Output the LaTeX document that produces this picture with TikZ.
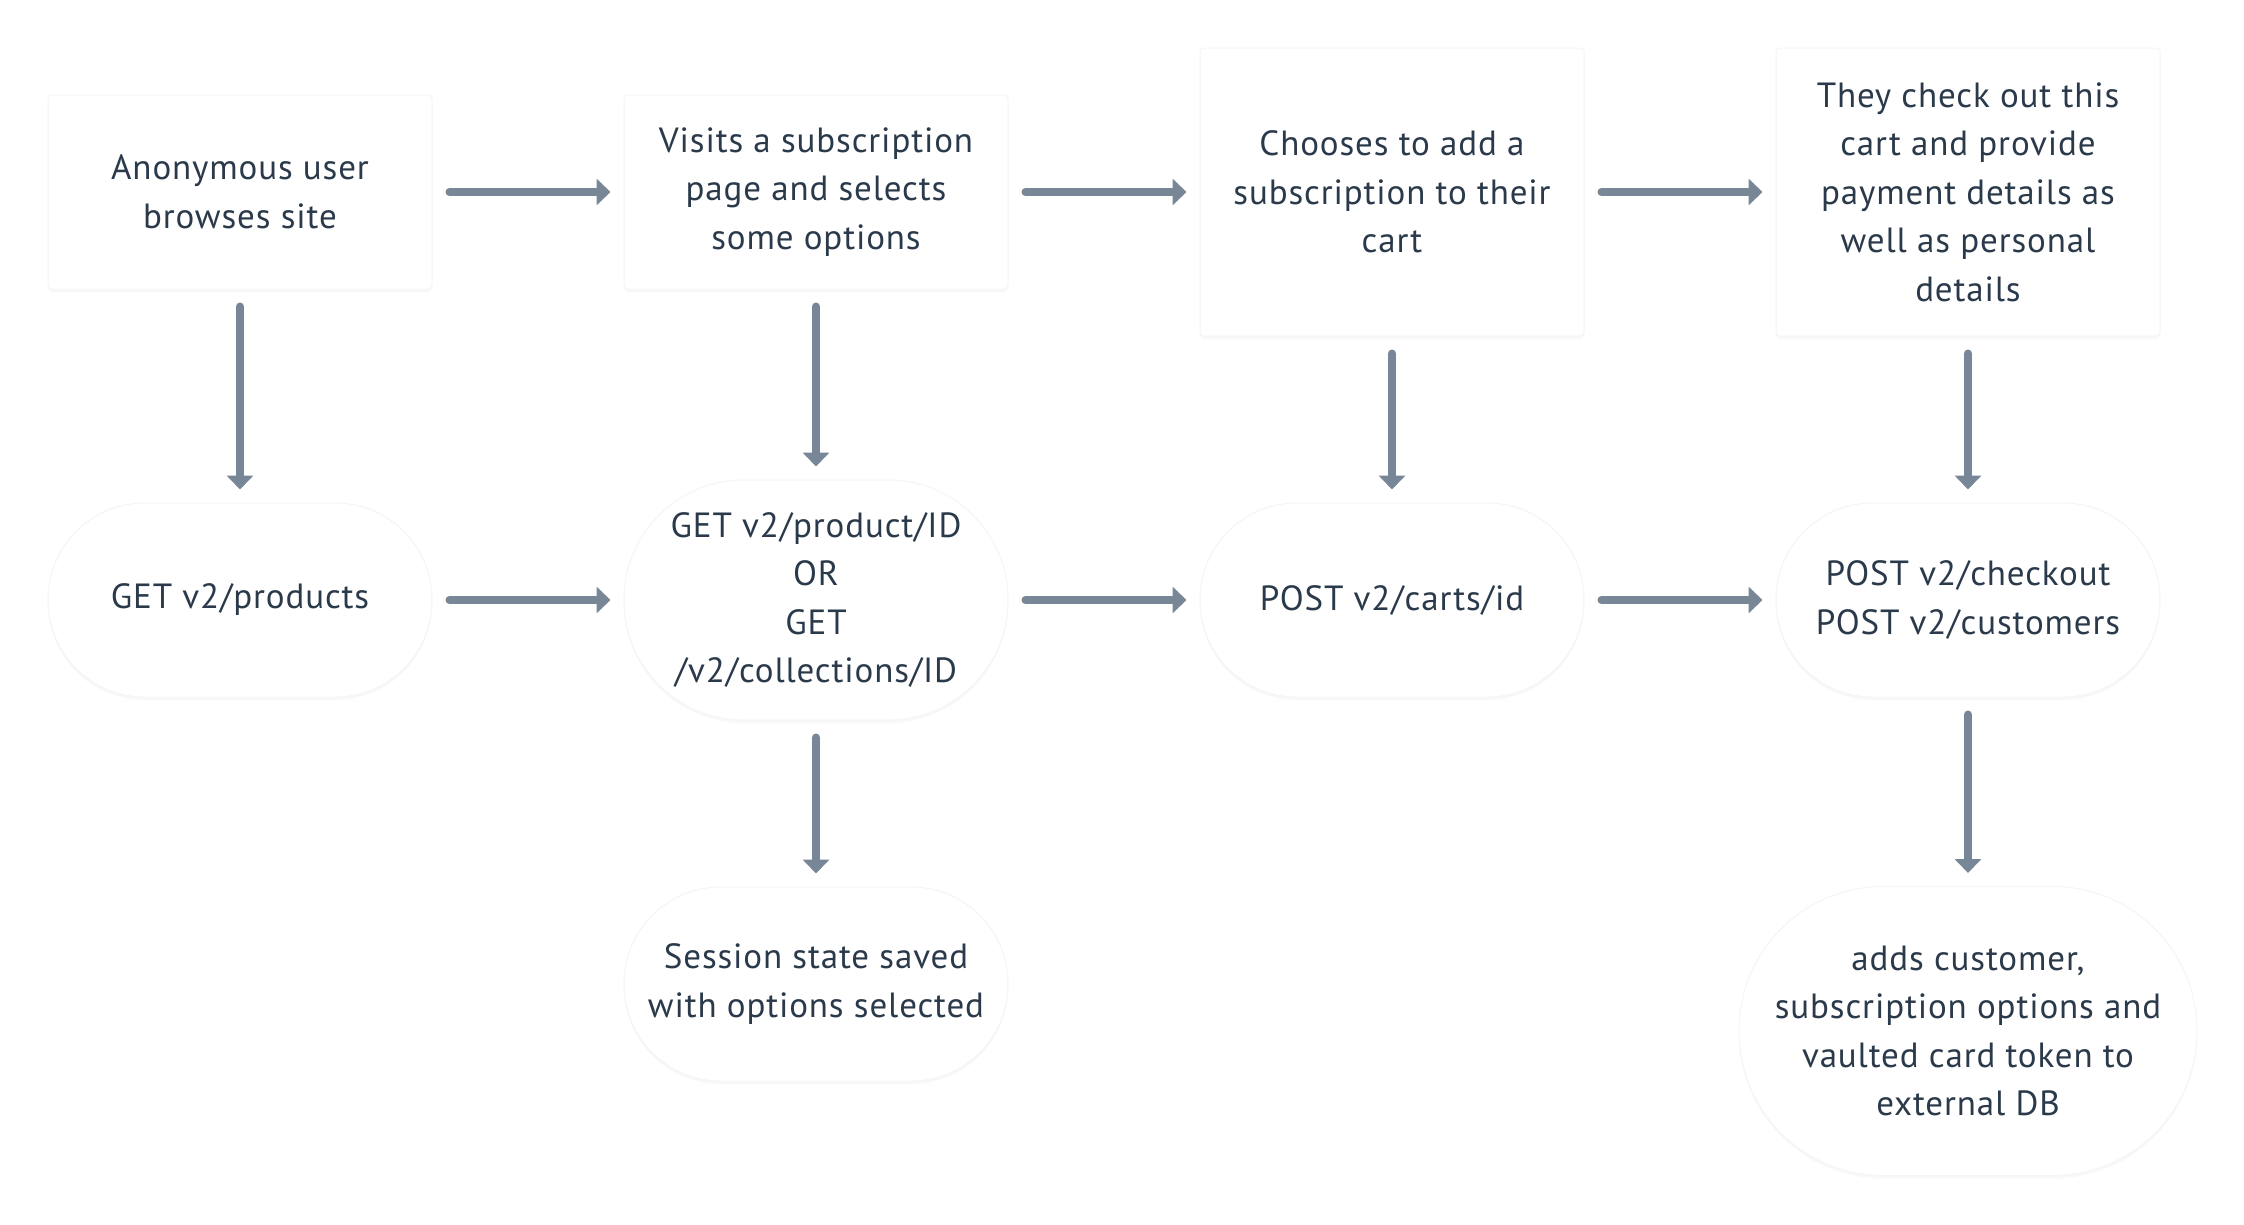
\documentclass[tikz,border=0pt]{standalone}
\usepackage{fontspec}
\setmainfont[LetterSpace=2.5]{PT Sans}
\usetikzlibrary{arrows.meta}
\usetikzlibrary{shadows}
\definecolor{ink}{HTML}{2B3A4B}
\definecolor{arrowgray}{HTML}{788797}

\begin{document}
\begin{tikzpicture}[x=1pt, y=-1pt,
        box/.style={rectangle, fill=white, draw=black!4, line width=1pt, rounded corners=4pt,
            minimum width=384pt, inner sep=0pt, align=center, text=ink,
            font=\fontsize{35}{48.5}\selectfont,
            drop shadow={shadow xshift=0pt, shadow yshift=-3pt, opacity=0.05}},
        oval/.style={box, minimum height=#1*1pt, rounded corners={(#1/2-0.5)*1pt}},
        arr/.style={arrowgray, line width=8pt, line cap=round,
            -{Triangle[length=14pt,width=26pt]}, shorten <=17pt, shorten >=13pt}]
                \fill[white] (0,0) rectangle (2244,1224);
                \useasboundingbox (0,0) rectangle (2244,1224);

                % top row: what the user does
                \node[box, minimum height=194pt] (browse) at (240,192) {Anonymous user\\browses site};
                \node[box, minimum height=194pt] (visit) at (816,192) {Visits a subscription\\page and selects\\some options};
                \node[box, minimum height=288pt] (choose) at (1392,192) {Chooses to add a\\subscription to their\\cart};
                \node[box, minimum height=288pt] (checkout) at (1968,192) {They check out this\\cart and provide\\payment details as\\well as personal\\details};

                % middle row: api calls
                \node[oval=194] (products) at (240,600) {GET v2/products};
                \node[oval=240] (product) at (816,600) {GET v2/product/ID\\OR\\GET\\/v2/collections/ID};
                \node[oval=194] (carts) at (1392,600) {POST v2/carts/id};
                \node[oval=194] (post) at (1968,600) {POST v2/checkout\\POST v2/customers};

                % bottom row
                \node[oval=194] (session) at (816,984) {Session state saved\\with options selected};
                \node[oval=289, minimum width=458pt] (external) at (1968,1031) {adds customer,\\subscription options and\\vaulted card token to\\external DB};

                \draw[arr] (browse) -- (visit);
                \draw[arr] (visit) -- (choose);
                \draw[arr] (choose) -- (checkout);
                \draw[arr] (products) -- (product);
                \draw[arr] (product) -- (carts);
                \draw[arr] (carts) -- (post);
                \draw[arr] (browse) -- (products);
                \draw[arr] (visit) -- (product);
                \draw[arr] (choose) -- (carts);
                \draw[arr] (checkout) -- (post);
                \draw[arr] (product) -- (session);
                \draw[arr] (post) -- (external);

            \end{tikzpicture}
\end{document}
